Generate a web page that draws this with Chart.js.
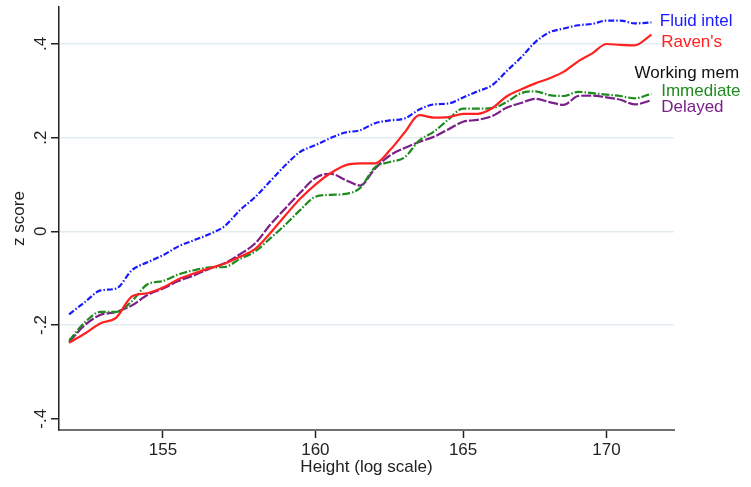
<!DOCTYPE html>
<html>
<head>
<meta charset="utf-8">
<script src="https://cdn.jsdelivr.net/npm/chart.js@4/dist/chart.umd.min.js"></script>
<style>
  html, body { margin: 0; padding: 0; background: #fff; }
  #wrap { width: 751px; height: 487px; }
</style>
</head>
<body>
<div id="wrap"><canvas id="chart" width="751" height="487"></canvas></div>
<script>
// height in cm (x axis, log scale)
const heights = [152, 152.5, 153, 153.5, 154, 154.5, 155, 155.5, 156, 156.5,
  157, 157.5, 158, 158.5, 159, 159.5, 160, 160.5, 161, 161.5,
  162, 162.5, 163, 163.5, 164, 164.5, 165, 165.5, 166, 166.5,
  167, 167.5, 168, 168.5, 169, 169.5, 170, 170.5, 171, 171.6];

const fluidIntel = [-0.177, -0.151, -0.126, -0.122, -0.083, -0.066, -0.051, -0.032, -0.019, -0.006,
  0.011, 0.045, 0.073, 0.107, 0.141, 0.170, 0.184, 0.199, 0.211, 0.216,
  0.231, 0.237, 0.241, 0.260, 0.271, 0.273, 0.286, 0.299, 0.312, 0.342,
  0.371, 0.404, 0.425, 0.433, 0.440, 0.443, 0.450, 0.450, 0.444, 0.446];

const ravens = [-0.238, -0.218, -0.196, -0.184, -0.139, -0.132, -0.120, -0.102, -0.090, -0.079,
  -0.069, -0.054, -0.038, -0.004, 0.034, 0.070, 0.100, 0.124, 0.141, 0.145,
  0.145, 0.173, 0.211, 0.248, 0.243, 0.244, 0.251, 0.251, 0.263, 0.288,
  0.303, 0.316, 0.327, 0.341, 0.363, 0.380, 0.400, 0.398, 0.397, 0.420];

const immediate = [-0.233, -0.194, -0.172, -0.172, -0.149, -0.113, -0.106, -0.092, -0.083, -0.077,
  -0.076, -0.059, -0.043, -0.015, 0.014, 0.046, 0.074, 0.078, 0.080, 0.093,
  0.137, 0.148, 0.158, 0.194, 0.213, 0.239, 0.262, 0.262, 0.263, 0.276,
  0.295, 0.299, 0.291, 0.289, 0.298, 0.295, 0.292, 0.289, 0.284, 0.294];

const delayed = [-0.236, -0.200, -0.178, -0.172, -0.158, -0.136, -0.122, -0.106, -0.094, -0.080,
  -0.068, -0.049, -0.026, 0.014, 0.049, 0.083, 0.114, 0.123, 0.110, 0.098,
  0.134, 0.162, 0.178, 0.191, 0.202, 0.218, 0.234, 0.238, 0.246, 0.264,
  0.274, 0.283, 0.276, 0.270, 0.289, 0.290, 0.286, 0.281, 0.271, 0.280];

const xTicks = [155, 160, 165, 170];
const yTicks = [-0.4, -0.2, 0, 0.2, 0.4];
const yTickLabels = ["-.4", "-.2", "0", ".2", ".4"];

const BLUE = "#1a1aff", RED = "#ff2020", GREEN = "#1f8b1f", PURPLE = "#7b1f8a";
const FONT = { family: "'Liberation Sans', Arial, sans-serif", size: 17 };

function pts(vals) {
  return heights.map((h, i) => ({ x: h, y: vals[i] }));
}

// text labels at the right end of the lines (data coordinates)
const endLabels = [
  { text: "Fluid intel", h: 171.9, v: 0.448, color: BLUE },
  { text: "Raven's", h: 171.95, v: 0.404, color: RED },
  { text: "Working mem", h: 171.0, v: 0.338, color: "#111" },
  { text: "Immediate", h: 171.95, v: 0.300, color: GREEN },
  { text: "Delayed", h: 171.95, v: 0.265, color: PURPLE },
];

const labelPlugin = {
  id: "endLabels",
  afterDatasetsDraw(chart) {
    const { ctx, scales } = chart;
    ctx.save();
    ctx.font = `${FONT.size}px ${FONT.family}`;
    ctx.textAlign = "left";
    ctx.textBaseline = "middle";
    endLabels.forEach((l) => {
      ctx.fillStyle = l.color;
      ctx.fillText(l.text, scales.x.getPixelForValue(l.h), scales.y.getPixelForValue(l.v));
    });
    ctx.restore();
  },
};

// keep the plot box where it is, whatever the tick labels ask for
function noPad(s) {
  s.paddingTop = 0;
  s.paddingBottom = 0;
  s.paddingLeft = 0;
  s.paddingRight = 0;
}

const lineDefaults = { pointRadius: 0, borderWidth: 2.2, fill: false, cubicInterpolationMode: "monotone" };

new Chart(document.getElementById("chart"), {
  type: "line",
  data: {
    datasets: [
      { ...lineDefaults, label: "Fluid intel", data: pts(fluidIntel), borderColor: BLUE, borderDash: [6, 2, 1.5, 2] },
      { ...lineDefaults, label: "Raven's", data: pts(ravens), borderColor: RED },
      { ...lineDefaults, label: "Immediate", data: pts(immediate), borderColor: GREEN, borderDash: [8, 2, 1.5, 2] },
      { ...lineDefaults, label: "Delayed", data: pts(delayed), borderColor: PURPLE, borderDash: [10, 2] },
    ],
  },
  options: {
    responsive: false,
    animation: false,
    devicePixelRatio: 1,
    layout: { padding: { top: 7, right: 77, bottom: 0, left: 0 } },
    plugins: {
      legend: { display: false },
      tooltip: { enabled: false },
    },
    scales: {
      x: {
        type: "logarithmic",
        min: 151.68,
        max: 172.41,
        afterBuildTicks: (s) => { s.ticks = xTicks.map((v) => ({ value: v })); },
        afterFit: (s) => { s.height = 57; noPad(s); },
        ticks: { font: FONT, color: "#222", padding: 2, maxRotation: 0, callback: (v) => String(v) },
        grid: { drawOnChartArea: false, tickLength: 8, tickColor: "#222", tickWidth: 1.5 },
        border: { color: "#707070", width: 2 },
        title: { display: true, text: "Height (log scale)", font: FONT, color: "#222", padding: { top: 0, bottom: 9 } },
      },
      y: {
        min: -0.424,
        max: 0.479,
        afterBuildTicks: (s) => { s.ticks = yTicks.map((v) => ({ value: v })); },
        afterFit: (s) => { s.width = 59; noPad(s); },
        ticks: {
          font: FONT, color: "#222", padding: 0, minRotation: 90, maxRotation: 90, crossAlign: "center",
          callback: (v) => yTickLabels[yTicks.indexOf(v)],
        },
        grid: {
          color: (c) => (c.tick && c.tick.value < -0.39 ? "rgba(0,0,0,0)" : "#e3edf1"),
          lineWidth: 1.5,
          tickLength: 8,
          tickColor: "#222",
          tickWidth: 1.5,
        },
        border: { color: "#222", width: 1.5 },
        title: { display: true, text: "z score", font: FONT, color: "#222", padding: { top: 9, bottom: 0 } },
      },
    },
  },
  plugins: [labelPlugin],
});
</script>
</body>
</html>
